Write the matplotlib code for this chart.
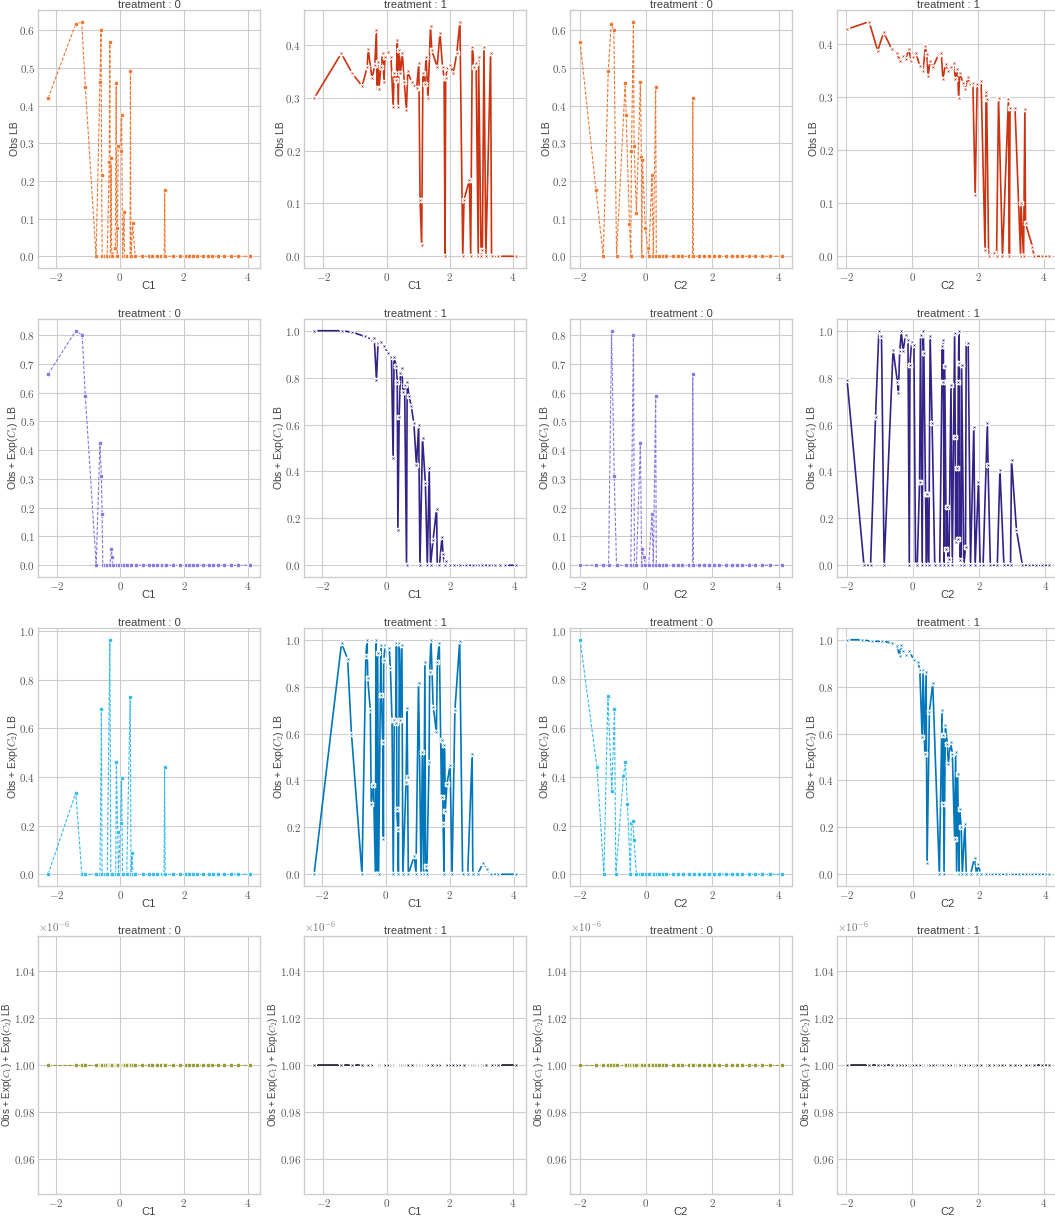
import numpy as np
import matplotlib.pyplot as plt

plt.style.use('seaborn-v0_8-whitegrid')
plt.rcParams['mathtext.fontset'] = 'cm'
plt.rcParams['axes.formatter.use_mathtext'] = True
plt.rcParams['font.family'] = ['cmr10']
plt.rcParams['axes.unicode_minus'] = True

# (C, bound) points per panel, sorted by C
# --- covariate C1 ---
obs_c1_t0 = [(-2.24, 0.42), (-1.38, 0.616), (-1.19, 0.623), (-1.075, 0.449), (-0.74, 0.0),
             (-0.62, 0.462), (-0.585, 0.60), (-0.565, 0.216), (-0.55, 0.0), (-0.46, 0.0),
             (-0.39, 0.0), (-0.33, 0.25), (-0.31, 0.57), (-0.29, 0.0), (-0.27, 0.262),
             (-0.25, 0.0), (-0.14, 0.021), (-0.11, 0.46), (-0.095, 0.075), (-0.075, 0.0),
             (-0.05, 0.292), (0.03, 0.28), (0.06, 0.376), (0.09, 0.0), (0.135, 0.118),
             (0.15, 0.0), (0.22, 0.0), (0.325, 0.0), (0.335, 0.493), (0.35, 0.0),
             (0.405, 0.088), (0.48, 0.0), (0.71, 0.0), (0.91, 0.0), (1.02, 0.0), (1.15, 0.0),
             (1.3, 0.0), (1.39, 0.0), (1.405, 0.175), (1.42, 0.0), (1.65, 0.0), (1.88, 0.0),
             (2.07, 0.0), (2.16, 0.0), (2.28, 0.0), (2.42, 0.0), (2.6, 0.0), (2.77, 0.0),
             (2.9, 0.0), (3.06, 0.0), (3.26, 0.0), (3.48, 0.0), (3.71, 0.0), (4.07, 0.0)]

exp1_c1_t0 = [(-2.27, 0.664), (-1.40, 0.815), (-1.20, 0.80), (-1.10, 0.587), (-0.76, 0.0),
              (-0.64, 0.426), (-0.595, 0.31), (-0.575, 0.178), (-0.55, 0.0), (-0.48, 0.0),
              (-0.41, 0.0), (-0.33, 0.0), (-0.28, 0.055), (-0.26, 0.03), (-0.24, 0.0),
              (-0.11, 0.0), (-0.05, 0.0), (0.05, 0.0), (0.1, 0.0), (0.22, 0.0), (0.35, 0.0),
              (0.48, 0.0), (0.71, 0.0), (0.91, 0.0), (1.02, 0.0), (1.15, 0.0), (1.3, 0.0),
              (1.39, 0.0), (1.43, 0.0), (1.65, 0.0), (1.88, 0.0), (2.07, 0.0), (2.16, 0.0),
              (2.28, 0.0), (2.42, 0.0), (2.6, 0.0), (2.77, 0.0), (2.9, 0.0), (3.06, 0.0),
              (3.26, 0.0), (3.48, 0.0), (3.71, 0.0), (4.07, 0.0)]

exp2_c1_t0 = [(-2.27, 0.0), (-1.40, 0.336), (-1.21, 0.0), (-1.10, 0.0), (-0.76, 0.0),
              (-0.64, 0.0), (-0.595, 0.678), (-0.575, 0.0), (-0.48, 0.0), (-0.41, 0.0),
              (-0.33, 0.965), (-0.30, 0.0), (-0.26, 0.0), (-0.146, 0.0), (-0.125, 0.46),
              (-0.083, 0.172), (-0.06, 0.0), (0.01, 0.213), (0.04, 0.396), (0.07, 0.0),
              (0.2, 0.0), (0.31, 0.73), (0.335, 0.0), (0.365, 0.087), (0.40, 0.0), (0.46, 0.0),
              (0.71, 0.0), (0.91, 0.0), (1.02, 0.0), (1.15, 0.0), (1.3, 0.0), (1.37, 0.0),
              (1.39, 0.44), (1.41, 0.0), (1.65, 0.0), (1.88, 0.0), (2.07, 0.0), (2.16, 0.0),
              (2.28, 0.0), (2.42, 0.0), (2.6, 0.0), (2.77, 0.0), (2.9, 0.0), (3.06, 0.0),
              (3.26, 0.0), (3.48, 0.0), (3.71, 0.0), (4.07, 0.0)]

obs_c1_t1 = [(-2.29, 0.299), (-1.43, 0.384), (-1.08, 0.346), (-0.77, 0.322), (-0.61, 0.359),
             (-0.58, 0.392), (-0.46, 0.337), (-0.37, 0.362), (-0.32, 0.428), (-0.30, 0.318),
             (-0.26, 0.368), (-0.24, 0.316), (-0.18, 0.359), (-0.12, 0.385), (-0.08, 0.33),
             (-0.05, 0.378), (0.05, 0.387), (0.14, 0.378), (0.21, 0.283), (0.24, 0.346),
             (0.31, 0.334), (0.34, 0.41), (0.37, 0.283), (0.40, 0.39), (0.44, 0.346),
             (0.50, 0.384), (0.56, 0.33), (0.63, 0.277), (0.67, 0.35), (0.79, 0.33),
             (0.95, 0.318), (1.02, 0.365), (1.06, 0.107), (1.11, 0.021), (1.15, 0.346),
             (1.21, 0.327), (1.25, 0.378), (1.31, 0.299), (1.39, 0.435), (1.43, 0.39),
             (1.60, 0.359), (1.69, 0.422), (1.77, 0.359), (1.82, 0.337), (1.85, 0.0),
             (1.87, 0.337), (1.92, 0.356), (2.02, 0.362), (2.11, 0.346), (2.22, 0.384),
             (2.32, 0.444), (2.41, 0.0), (2.45, 0.107), (2.62, 0.144), (2.66, 0.0),
             (2.71, 0.397), (2.77, 0.359), (2.83, 0.365), (2.90, 0.0), (2.91, 0.378),
             (2.99, 0.0), (3.03, 0.012), (3.08, 0.397), (3.14, 0.0), (3.29, 0.384),
             (3.32, 0.0), (3.51, 0.0), (4.09, 0.0)]

exp1_c1_t1 = [(-2.26, 1.0), (-1.40, 1.0), (-1.07, 0.994), (-0.68, 0.976), (-0.45, 0.962),
              (-0.38, 0.969), (-0.31, 0.79), (-0.26, 0.947), (-0.16, 0.95), (-0.07, 0.933),
              (0.05, 0.905), (0.16, 0.89), (0.21, 0.456), (0.24, 0.89), (0.31, 0.848),
              (0.34, 0.783), (0.36, 0.15), (0.40, 0.634), (0.44, 0.819), (0.48, 0.84),
              (0.52, 0.74), (0.57, 0.77), (0.63, 0.0), (0.65, 0.783), (0.71, 0.72),
              (0.78, 0.677), (0.86, 0.605), (0.94, 0.427), (1.01, 0.598), (1.05, 0.0),
              (1.13, 0.541), (1.22, 0.349), (1.28, 0.0), (1.34, 0.413), (1.38, 0.0),
              (1.46, 0.107), (1.57, 0.242), (1.59, 0.0), (1.66, 0.0), (1.74, 0.121),
              (1.77, 0.05), (1.82, 0.0), (1.87, 0.02), (1.98, 0.0), (2.1, 0.0), (2.3, 0.0),
              (2.5, 0.0), (2.7, 0.0), (2.9, 0.0), (3.0, 0.0), (3.2, 0.0), (3.4, 0.0),
              (3.55, 0.0), (3.7, 0.0), (4.05, 0.0)]

exp2_c1_t1 = [(-2.25, 0.0), (-1.39, 0.986), (-1.20, 0.917), (-1.08, 0.60), (-0.75, 0.0),
              (-0.63, 0.929), (-0.59, 0.999), (-0.57, 0.836), (-0.49, 0.70), (-0.46, 0.30),
              (-0.39, 0.379), (-0.33, 0.0), (-0.31, 1.0), (-0.29, 0.0), (-0.26, 0.943),
              (-0.23, 0.0), (-0.16, 0.979), (-0.14, 0.764), (-0.10, 0.564), (-0.08, 0.15),
              (-0.07, 0.914), (-0.02, 0.979), (0.05, 0.971), (0.10, 0.964), (0.14, 0.879),
              (0.19, 0.657), (0.23, 0.0), (0.26, 0.657), (0.31, 0.643), (0.33, 0.986),
              (0.34, 0.279), (0.37, 0.193), (0.39, 0.0), (0.42, 0.986), (0.45, 0.657),
              (0.50, 0.979), (0.53, 0.0), (0.63, 0.393), (0.66, 0.707), (0.68, 0.414),
              (0.70, 0.0), (0.89, 0.079), (0.94, 0.0), (1.02, 0.817), (1.10, 0.0),
              (1.14, 0.521), (1.18, 0.0), (1.22, 0.907), (1.24, 0.036), (1.28, 0.0),
              (1.35, 0.479), (1.37, 0.864), (1.41, 1.0), (1.48, 0.714), (1.58, 0.607),
              (1.61, 0.907), (1.67, 0.986), (1.74, 0.329), (1.77, 0.571), (1.79, 0.214),
              (1.82, 0.0), (1.83, 0.55), (1.86, 0.271), (1.91, 0.386), (2.01, 0.464),
              (2.07, 0.0), (2.16, 0.70), (2.31, 0.993), (2.40, 0.0), (2.56, 0.0),
              (2.70, 0.514), (2.72, 0.0), (2.87, 0.0), (3.05, 0.05), (3.16, 0.021),
              (3.29, 0.0), (3.50, 0.0), (4.07, 0.0)]

# --- covariate C2 ---
obs_c2_t0 = [(-1.99, 0.57), (-1.51, 0.175), (-1.29, 0.0), (-1.14, 0.493), (-1.05, 0.616),
             (-0.97, 0.60), (-0.89, 0.0), (-0.63, 0.46), (-0.60, 0.376), (-0.50, 0.086),
             (-0.46, 0.0), (-0.44, 0.279), (-0.38, 0.623), (-0.36, 0.292), (-0.29, 0.116),
             (-0.17, 0.463), (-0.14, 0.263), (-0.13, 0.0), (-0.11, 0.256), (-0.02, 0.075),
             (0.05, 0.021), (0.08, 0.0), (0.18, 0.216), (0.22, 0.0), (0.29, 0.449),
             (0.31, 0.0), (0.4, 0.0), (0.5, 0.0), (0.6, 0.0), (0.8, 0.0), (0.95, 0.0),
             (1.1, 0.0), (1.3, 0.0), (1.40, 0.0), (1.41, 0.42), (1.43, 0.0), (1.6, 0.0),
             (1.75, 0.0), (1.9, 0.0), (2.05, 0.0), (2.2, 0.0), (2.4, 0.0), (2.6, 0.0),
             (2.75, 0.0), (2.9, 0.0), (3.1, 0.0), (3.3, 0.0), (3.5, 0.0), (3.75, 0.0),
             (4.1, 0.0)]

exp1_c2_t0 = [(-1.99, 0.0), (-1.5, 0.0), (-1.29, 0.0), (-1.13, 0.0), (-1.04, 0.815),
              (-0.96, 0.31), (-0.89, 0.0), (-0.6, 0.0), (-0.46, 0.0), (-0.38, 0.80),
              (-0.35, 0.0), (-0.29, 0.0), (-0.17, 0.426), (-0.13, 0.0), (-0.11, 0.055),
              (-0.06, 0.03), (-0.02, 0.0), (0.08, 0.0), (0.18, 0.178), (0.22, 0.0),
              (0.29, 0.587), (0.31, 0.0), (0.4, 0.0), (0.5, 0.0), (0.6, 0.0), (0.8, 0.0),
              (0.95, 0.0), (1.1, 0.0), (1.3, 0.0), (1.40, 0.0), (1.41, 0.664), (1.43, 0.0),
              (1.6, 0.0), (1.75, 0.0), (1.9, 0.0), (2.05, 0.0), (2.2, 0.0), (2.4, 0.0),
              (2.6, 0.0), (2.75, 0.0), (2.9, 0.0), (3.1, 0.0), (3.3, 0.0), (3.5, 0.0),
              (3.75, 0.0), (4.1, 0.0)]

exp2_c2_t0 = [(-2.0, 0.963), (-1.49, 0.44), (-1.28, 0.0), (-1.16, 0.73), (-1.04, 0.34),
              (-0.96, 0.68), (-0.92, 0.0), (-0.69, 0.405), (-0.63, 0.46), (-0.57, 0.29),
              (-0.48, 0.0), (-0.45, 0.21), (-0.41, 0.22), (-0.37, 0.14), (-0.30, 0.0),
              (-0.2, 0.0), (-0.13, 0.0), (-0.02, 0.0), (0.08, 0.0), (0.22, 0.0), (0.31, 0.0),
              (0.4, 0.0), (0.5, 0.0), (0.6, 0.0), (0.8, 0.0), (0.95, 0.0), (1.1, 0.0),
              (1.3, 0.0), (1.43, 0.0), (1.6, 0.0), (1.75, 0.0), (1.9, 0.0), (2.05, 0.0),
              (2.2, 0.0), (2.4, 0.0), (2.6, 0.0), (2.75, 0.0), (2.9, 0.0), (3.1, 0.0),
              (3.3, 0.0), (3.5, 0.0), (3.75, 0.0), (4.1, 0.0)]

obs_c2_t1 = [(-1.98, 0.428), (-1.31, 0.442), (-1.05, 0.387), (-0.87, 0.422), (-0.62, 0.39),
             (-0.47, 0.384), (-0.37, 0.368), (-0.27, 0.378), (-0.20, 0.372), (-0.10, 0.39),
             (-0.04, 0.368), (0.03, 0.375), (0.10, 0.384), (0.23, 0.359), (0.33, 0.35),
             (0.40, 0.397), (0.44, 0.381), (0.48, 0.34), (0.54, 0.368), (0.63, 0.356),
             (0.80, 0.381), (0.88, 0.384), (0.93, 0.334), (1.01, 0.362), (1.09, 0.35),
             (1.19, 0.356), (1.26, 0.365), (1.31, 0.334), (1.37, 0.353), (1.41, 0.299),
             (1.44, 0.346), (1.54, 0.327), (1.61, 0.315), (1.69, 0.337), (1.76, 0.324),
             (1.84, 0.327), (1.91, 0.116), (1.97, 0.324), (2.09, 0.331), (2.21, 0.012),
             (2.24, 0.309), (2.26, 0.296), (2.32, 0.0), (2.49, 0.006), (2.56, 0.0),
             (2.62, 0.299), (2.74, 0.0), (2.92, 0.296), (2.95, 0.0), (2.97, 0.28),
             (3.12, 0.28), (3.29, 0.0), (3.30, 0.10), (3.38, 0.0), (3.42, 0.277),
             (3.44, 0.062), (3.65, 0.018), (3.70, 0.0), (3.95, 0.0), (4.15, 0.0)]

exp1_c2_t1 = [(-1.99, 0.79), (-1.48, 0.0), (-1.28, 0.0), (-1.13, 0.634), (-1.03, 0.997),
              (-0.95, 0.976), (-0.87, 0.0), (-0.60, 0.919), (-0.47, 0.783), (-0.44, 0.734),
              (-0.40, 0.912), (-0.35, 0.997), (-0.30, 0.912), (-0.22, 0.983), (-0.15, 0.962),
              (-0.11, 0.0), (-0.09, 0.855), (-0.04, 0.954), (0.03, 0.94), (0.08, 0.0),
              (0.13, 0.0), (0.20, 0.356), (0.23, 0.983), (0.28, 0.0), (0.31, 0.997),
              (0.33, 0.905), (0.38, 0.306), (0.41, 0.0), (0.43, 0.306), (0.48, 0.0),
              (0.52, 0.976), (0.58, 0.605), (0.66, 0.0), (0.81, 0.0), (0.89, 0.933),
              (0.90, 0.783), (0.92, 0.962), (0.94, 0.0), (0.96, 0.848), (1.01, 0.071),
              (1.03, 0.249), (1.06, 0.0), (1.09, 0.028), (1.15, 0.769), (1.19, 0.0),
              (1.26, 0.99), (1.28, 0.548), (1.29, 0.1), (1.33, 0.413), (1.35, 0.114),
              (1.37, 0.783), (1.39, 1.0), (1.40, 0.862), (1.42, 0.021), (1.46, 0.0),
              (1.47, 0.855), (1.54, 0.0), (1.59, 0.078), (1.61, 0.954), (1.67, 0.947),
              (1.74, 0.0), (1.84, 0.591), (1.88, 0.0), (1.98, 0.356), (2.03, 0.0),
              (2.12, 0.0), (2.25, 0.605), (2.27, 0.427), (2.34, 0.0), (2.55, 0.0),
              (2.63, 0.406), (2.75, 0.0), (2.95, 0.0), (2.98, 0.449), (3.13, 0.15),
              (3.31, 0.0), (3.51, 0.0), (3.71, 0.0), (3.91, 0.0), (4.11, 0.0)]

exp2_c2_t1 = [(-1.98, 1.0), (-1.53, 1.0), (-1.23, 0.993), (-0.92, 0.993), (-0.62, 0.986),
              (-0.47, 0.974), (-0.40, 0.929), (-0.36, 0.979), (-0.30, 0.95), (-0.22, 0.936),
              (-0.10, 0.95), (0.03, 0.914), (0.16, 0.907), (0.21, 0.871), (0.28, 0.586),
              (0.31, 0.871), (0.36, 0.514), (0.40, 0.864), (0.43, 0.05), (0.50, 0.693),
              (0.60, 0.814), (0.80, 0.0), (0.88, 0.70), (0.90, 0.30), (0.92, 0.593),
              (0.94, 0.0), (0.98, 0.636), (1.04, 0.557), (1.07, 0.471), (1.14, 0.564),
              (1.19, 0.514), (1.26, 0.15), (1.29, 0.521), (1.32, 0.0), (1.35, 0.429),
              (1.39, 0.0), (1.41, 0.279), (1.46, 0.20), (1.49, 0.0), (1.57, 0.214),
              (1.61, 0.0), (1.74, 0.0), (1.86, 0.071), (1.92, 0.0), (1.97, 0.043),
              (2.04, 0.0), (2.2, 0.0), (2.4, 0.0), (2.6, 0.0), (2.8, 0.0), (3.0, 0.0),
              (3.2, 0.0), (3.4, 0.0), (3.6, 0.0), (3.8, 0.0), (4.0, 0.0), (4.1, 0.0)]

# the joint bound is the same tiny value everywhere
joint_lb = 1e-6

row_labels = ['Obs LB', r'Obs + Exp($C_1$) LB', r'Obs + Exp($C_2$) LB',
              r'Obs + Exp($C_1$) + Exp($C_2$) LB']
col_covariates = ['C1', 'C1', 'C2', 'C2']
col_treatments = [0, 1, 0, 1]
row_colors = [('#EE7733', '#CC3311'), ('#8877DD', '#332288'),
              ('#33BBEE', '#0077BB'), ('#999933', '#1a1a33')]

panels = [
    [obs_c1_t0, obs_c1_t1, obs_c2_t0, obs_c2_t1],
    [exp1_c1_t0, exp1_c1_t1, exp1_c2_t0, exp1_c2_t1],
    [exp2_c1_t0, exp2_c1_t1, exp2_c2_t0, exp2_c2_t1],
]

sans = dict(family=['Liberation Sans', 'DejaVu Sans'], color='0.25')

W, H = 1055, 1220
lefts = [38, 304, 570, 837]
tops = [10, 319, 628, 936]
aw, ah = 222, 258

fig = plt.figure(figsize=(W / 100, H / 100), dpi=100)

for r in range(4):
    for c in range(4):
        ax = fig.add_axes([lefts[c] / W, 1 - (tops[r] + ah) / H, aw / W, ah / H])
        treat = col_treatments[c]
        if r < 3:
            pts = np.array(panels[r][c])
            xs, ys = pts[:, 0], pts[:, 1]
        else:
            xs = np.array(panels[0][c])[:, 0]
            ys = np.array([joint_lb] * len(xs))
        color = row_colors[r][treat]
        if treat == 0:
            ax.plot(xs, ys, color=color, lw=0.8, ls=(0, (3, 1.5)),
                    marker='o', ms=3.2, mec='white', mew=0.5)
        else:
            ax.plot(xs, ys, color=color, lw=1.2, ls='-',
                    marker='X', ms=3.5, mec='white', mew=1.0)
        ax.set_title(f'treatment : {treat}', fontsize=8, pad=-1.5, **sans)
        ax.set_ylabel(row_labels[r], fontsize=7.5 if r < 3 else 7, **sans)
        ax.yaxis.set_label_coords(-0.08 if r < 3 else -0.108, 0.5)
        ax.set_xlabel(col_covariates[c], fontsize=8, labelpad=-1, **sans)
        ax.tick_params(labelsize=8, pad=2, colors='0.35')
        ax.yaxis.get_offset_text().set_fontsize(8)
        ax.yaxis.get_offset_text().set_color('0.45')

fig.savefig('out.png', dpi=100)
